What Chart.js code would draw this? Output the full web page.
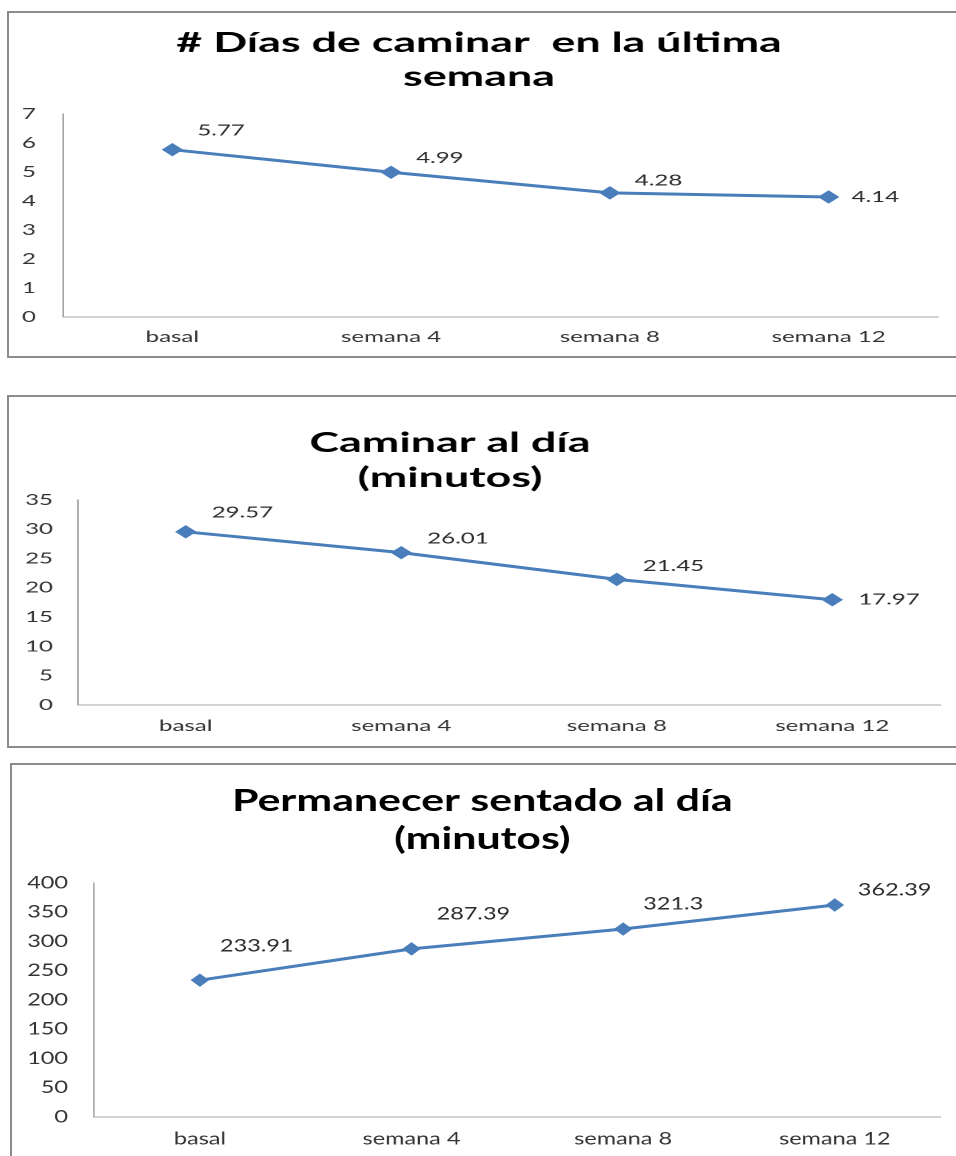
<!DOCTYPE html>
<html>
<head>
<meta charset="utf-8">
<script src="https://cdn.jsdelivr.net/npm/chart.js@4/dist/chart.umd.min.js"></script>
<style>
  html, body { margin: 0; padding: 0; background: #fff; }
  body { position: relative; width: 956px; height: 1156px; overflow: hidden; }
  .frame { position: absolute; box-sizing: border-box; border: 2px solid #8c8c8c; border-right: none; }
  .wrap { position: absolute; transform-origin: 0 0; }
  .wrap canvas { display: block; }
</style>
</head>
<body>
<div class="frame" style="left:7px; top:11px; width:960px; height:347px;"></div>
<div class="frame" style="left:7px; top:395px; width:960px; height:353px;"></div>
<div class="frame" style="left:10px; top:763px; width:960px; height:500px;"></div>

<div class="wrap" id="w1"><canvas id="c1"></canvas></div>
<div class="wrap" id="w2"><canvas id="c2"></canvas></div>
<div class="wrap" id="w3"><canvas id="c3"></canvas></div>

<script>
// Time points shared by all three panels
const categories = ['basal', 'semana 4', 'semana 8', 'semana 12'];

// Series values
const diasCaminar = [5.77, 4.99, 4.28, 4.14];
const minutosCaminar = [29.57, 26.01, 21.45, 17.97];
const minutosSentado = [233.91, 287.39, 321.3, 362.39];

// Titles (two lines each)
const titleDias = ['# Días de caminar  en la última', 'semana'];
const titleCaminar = ['Caminar al día', '(minutos)'];
const titleSentado = ['Permanecer sentado al día', '(minutos)'];

// Value axis ranges: [max, step]
const yAxisDias = [7, 1];
const yAxisCaminar = [35, 5];
const yAxisSentado = [400, 50];

const LINE_BLUE = '#4A7EBB';
const FONT = 'Lato, "Open Sans", sans-serif';

// Draws each point's value next to its marker
const valueLabels = {
  id: 'valueLabels',
  afterDatasetsDraw(chart, args, opts) {
    const { ctx } = chart;
    const meta = chart.getDatasetMeta(0);
    const values = chart.data.datasets[0].data;
    ctx.save();
    ctx.font = opts.size + 'px ' + FONT;
    ctx.fillStyle = opts.color;
    ctx.textAlign = 'left';
    ctx.textBaseline = 'middle';
    meta.data.forEach((pt, i) => {
      const off = opts.offsets[i];
      ctx.fillText(String(values[i]), pt.x + off[0] / opts.sx, pt.y + off[1]);
    });
    ctx.restore();
  }
};

// Panel geometry in page pixels; each panel is drawn narrower and stretched by sx
const panels = [
  { canvas: 'c1', wrap: 'w1', values: diasCaminar, title: titleDias, yAxis: yAxisDias,
    sx: 1.6, left: 0, top: 12, width: 960, height: 345, titleCenter: 479,
    plotLeft: 63, plotRight: 938, labelRight: 36,
    titleSize: 28, titleLine: 34, titlePadTop: 14, titlePadBottom: 20,
    xAxisHeight: 40, xPad: 11, tickSize: 15, valueSize: 15,
    offsets: [[25, -19], [25, -14], [25, -12], [23, 0]] },
  { canvas: 'c2', wrap: 'w2', values: minutosCaminar, title: titleCaminar, yAxis: yAxisCaminar,
    sx: 1.6, left: -50, top: 396, width: 1010, height: 351, titleCenter: 450,
    plotLeft: 78, plotRight: 940, labelRight: 53,
    titleSize: 28, titleLine: 35, titlePadTop: 29.5, titlePadBottom: 4.5,
    xAxisHeight: 42, xPad: 12, tickSize: 15, valueSize: 15,
    offsets: [[26, -19], [26, -14], [26, -13], [26, 0]] },
  { canvas: 'c3', wrap: 'w3', values: minutosSentado, title: titleSentado, yAxis: yAxisSentado,
    sx: 1.38, left: 0, top: 764, width: 960, height: 392, titleCenter: 482,
    plotLeft: 94, plotRight: 940, labelRight: 68,
    titleSize: 31, titleLine: 38, titlePadTop: 18, titlePadBottom: 25,
    xAxisHeight: 39, xPad: 11.8, tickSize: 17, valueSize: 17,
    offsets: [[20, -34], [25, -35], [20, -25], [23, -15]] }
];

panels.forEach(p => {
  const wrap = document.getElementById(p.wrap);
  const logicalWidth = p.width / p.sx;
  wrap.style.left = p.left + 'px';
  wrap.style.top = p.top + 'px';
  wrap.style.width = logicalWidth + 'px';
  wrap.style.height = p.height + 'px';
  wrap.style.transform = 'scaleX(' + p.sx + ')';

  // the title spans from the left padding to the plot's right edge
  const padLeft = (2 * p.titleCenter - p.left - p.plotRight) / p.sx;
  const yWidth = (p.plotLeft - p.left) / p.sx - padLeft;
  const yPad = (p.plotLeft - p.labelRight) / p.sx;
  const padRight = (p.left + p.width - p.plotRight) / p.sx;

  new Chart(document.getElementById(p.canvas), {
    type: 'line',
    data: {
      labels: categories,
      datasets: [{
        data: p.values,
        borderColor: LINE_BLUE,
        backgroundColor: LINE_BLUE,
        borderWidth: 3,
        tension: 0,
        pointStyle: 'rectRot',
        pointRadius: 6,
        pointBorderWidth: 1,
        pointBackgroundColor: LINE_BLUE,
        pointBorderColor: LINE_BLUE
      }]
    },
    options: {
      responsive: true,
      maintainAspectRatio: false,
      animation: false,
      devicePixelRatio: 2,
      layout: { padding: { left: padLeft, right: padRight, top: 0, bottom: 0 } },
      plugins: {
        legend: { display: false },
        tooltip: { enabled: false },
        title: {
          display: true,
          text: p.title,
          color: '#000',
          font: { family: FONT, size: p.titleSize, weight: 'bold', lineHeight: p.titleLine / p.titleSize },
          padding: { top: p.titlePadTop, bottom: p.titlePadBottom }
        },
        valueLabels: { offsets: p.offsets, sx: p.sx, size: p.valueSize, color: '#2b2b2b' }
      },
      scales: {
        x: {
          type: 'category',
          offset: true,
          grid: { display: true, drawOnChartArea: false, drawTicks: false },
          border: { display: true, color: '#a6a6a6', width: 1 },
          ticks: { color: '#333', padding: p.xPad, maxRotation: 0, autoSkip: false,
                   font: { family: FONT, size: p.tickSize } },
          afterFit(scale) { scale.height = p.xAxisHeight; }
        },
        y: {
          min: 0,
          max: p.yAxis[0],
          grid: { display: true, drawOnChartArea: false, drawTicks: false },
          border: { display: true, color: '#a6a6a6', width: 1 },
          ticks: { stepSize: p.yAxis[1], color: '#333', padding: yPad,
                   font: { family: FONT, size: p.tickSize } },
          afterFit(scale) { scale.width = yWidth; }
        }
      }
    },
    plugins: [valueLabels]
  });
});
</script>
</body>
</html>
